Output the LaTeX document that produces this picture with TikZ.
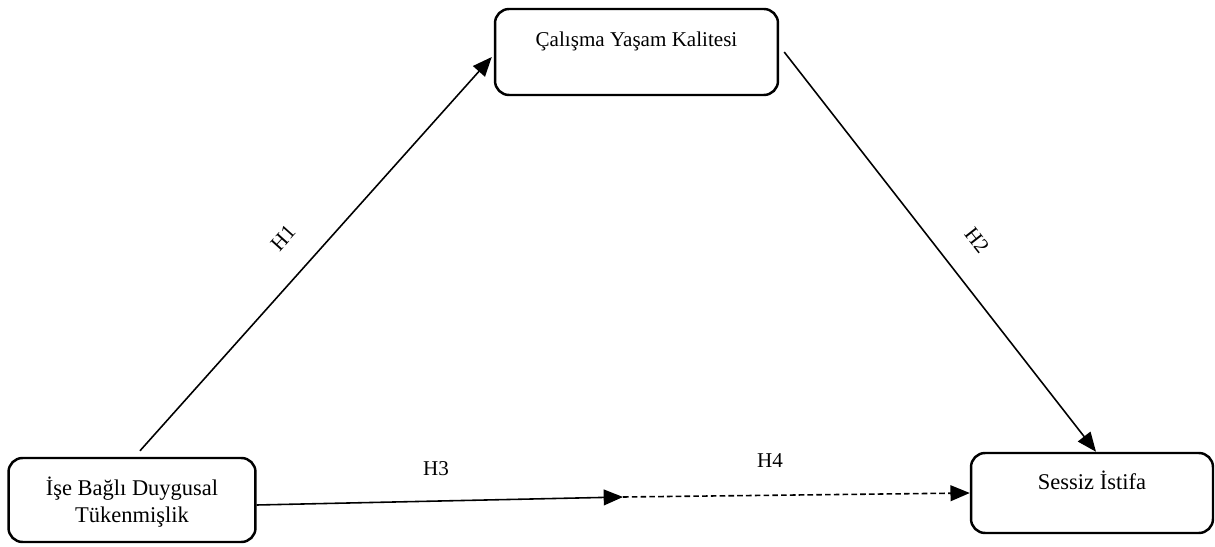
\documentclass[tikz,border=0pt]{standalone}
\usepackage{fontspec}
\setmainfont{Liberation Serif}
\usetikzlibrary{arrows.meta}
\tikzset{
 kasten/.style={draw, line width=1.4pt, rounded corners=8pt},
 pfeil/.style={-{Triangle[length=11pt,width=9pt]}, line width=0.9pt},
 schrift/.style={font=\fontsize{12}{14}\selectfont},
 schriftgross/.style={font=\fontsize{12.8}{15.3}\selectfont}
}
\begin{document}
\begin{tikzpicture}[x=0.02cm, y=-0.02cm]
 \useasboundingbox (0,0) rectangle (1215,547);

 % Kästen
 \node[kasten, minimum width=5.66cm, minimum height=1.72cm] (cyk) at (636.5,52) {};
 \node[kasten, minimum width=4.94cm, minimum height=1.68cm] (ibdt) at (132,500) {};
 \node[kasten, minimum width=4.84cm, minimum height=1.6cm] (si) at (1092,493) {};

 % Beschriftung der Kästen
 \node[schrift, anchor=base] (cyktext) at (636.5,47) {Çalışma Yaşam Kalitesi};
 \node[schriftgross, align=center] (ibdttext) at (132,502) {İşe Bağlı Duygusal\\Tükenmişlik};
 \node[schriftgross, anchor=base] (sitext) at (1092,490) {Sessiz İstifa};

 % Verbindungspfeile
 \coordinate (mitte) at (623,497);
 \draw[pfeil] ([shift={(8,-6)}]ibdt.north) -- ([shift={(-2,5)}]cyk.west);
 \draw[pfeil] ([shift={(5,0)}]cyk.east) -- ([shift={(4,0)}]si.north);
 \draw[pfeil] ([shift={(0,5)}]ibdt.east) -- (mitte);
 \draw[pfeil, dash pattern=on 3.2pt off 1.8pt] (mitte) -- (si.west);

 % Hypothesen
 \node[schrift, rotate=48, inner sep=1pt] (h1) at (283,238) {H1};
 \node[schrift, rotate=-52, inner sep=1pt] (h2) at (977,240) {H2};
 \node[schrift] (h3) at (436,469) {H3};
 \node[schrift] (h4) at (770,461) {H4};
\end{tikzpicture}
\end{document}
